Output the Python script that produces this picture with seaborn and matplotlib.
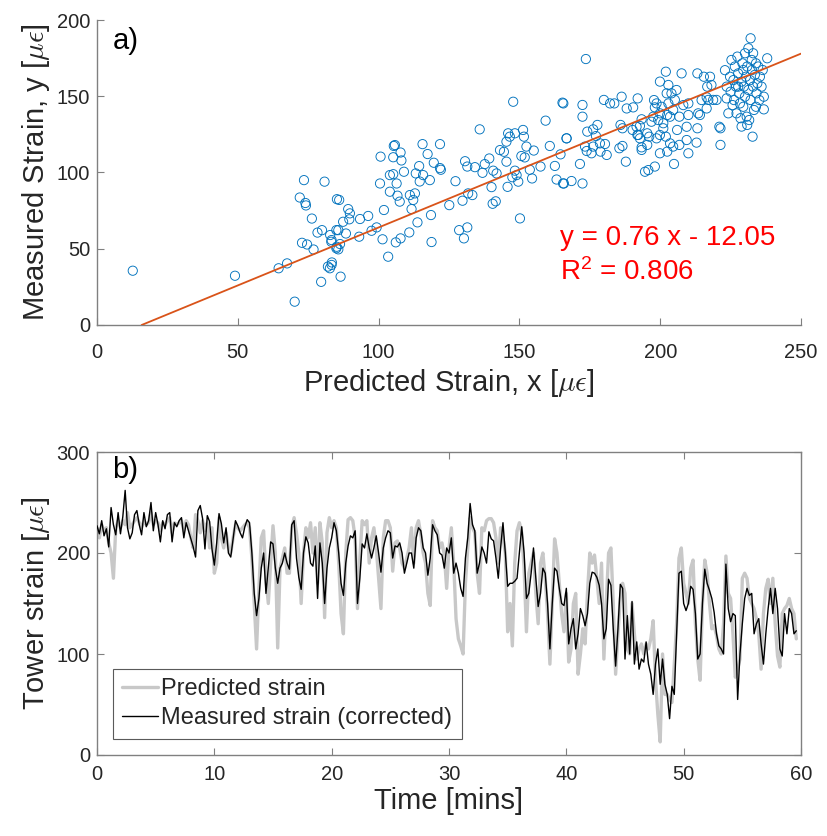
import numpy as np
import pandas as pd
import matplotlib
matplotlib.use("Agg")
import matplotlib.pyplot as plt
import seaborn as sns

# ---------------- data: panel a) scatter ----------------
pred_x = [
    12.7, 49.0, 64.5, 67.5, 70.2, 73.5, 80.8, 72.0, 74.0, 74.2, 76.3, 78.3, 79.9, 82.8, 83.2, 72.8, 74.6, 76.9, 82.0, 83.4,
    79.6, 85.2, 85.0, 85.0,
    86.0, 89.2, 89.8, 89.6, 87.4, 85.7, 88.4, 83.3, 85.1, 85.7, 86.3, 83.3, 82.7, 86.5, 93.4, 96.3, 93.1, 97.5, 99.3, 101.9,
    101.4, 103.4, 100.5, 104.0, 100.7, 105.2, 105.4, 105.8, 104.0, 105.2, 106.4, 107.8, 108.1, 109.0, 106.7, 107.5, 111.1,
    112.9, 112.3, 111.7, 113.8, 110.9, 107.8, 106.1, 114.4, 113.2, 115.8, 114.6, 115.6, 117.4, 118.2, 119.6, 121.8, 121.8,
    122.1, 118.6, 118.8, 125.1, 127.3, 128.6, 130.3, 131.5, 129.8, 131.8, 133.3, 130.7, 131.5, 134.2, 135.9, 136.9, 137.7,
    139.3, 140.1, 140.5, 141.6, 140.7, 141.9, 143.1, 144.5, 145.4, 146.0, 146.6, 145.4, 145.8, 147.8, 148.4, 151.3, 151.6,
    152.5, 150.7, 151.9, 148.4, 149.0, 149.6, 147.5, 150.2, 153.7, 154.5, 155.1, 157.5, 159.3, 160.8, 162.6, 163.2, 165.5,
    164.6, 165.3, 166.7,
    173.6, 165.6, 172.4, 172.4, 174.1, 176.2, 177.7, 177.2, 178.6, 180.4, 178.8, 176.2, 173.3, 171.5, 166.8, 173.9, 175.6,
    165.8, 168.5, 172.4, 181.0, 180.0, 182.2, 183.7, 186.3, 188.1, 190.4, 192.0, 185.9, 186.6, 185.5, 186.6, 187.8, 190.2,
    192.2, 192.8, 193.4, 191.6, 192.8, 193.4, 191.9, 194.6, 195.8, 198.1,
    195.4, 196.9, 198.1, 198.7, 197.8, 199.9, 200.5, 199.3, 199.9, 201.1, 202.0, 202.9, 202.9, 202.3, 204.0, 205.8, 205.2,
    204.6, 203.5, 202.5, 201.1, 199.9, 202.0, 207.6, 208.2, 206.8, 206.0, 206.8, 204.6, 203.5, 204.9, 202.5, 199.9, 198.7,
    197.5, 196.1, 195.4, 193.4,
    209.4, 210.0, 210.0, 209.4, 210.0, 212.9, 213.2, 213.5, 214.1, 213.2, 214.7, 215.5, 216.5, 217.7, 218.2, 216.5, 216.7,
    217.1, 218.8, 220.0, 221.0, 221.4, 221.4,
    223.0, 223.6, 223.6, 224.8, 225.0, 225.3, 226.0, 226.2, 226.5, 226.9, 227.1, 227.4, 227.7, 228.1, 228.3, 228.5, 228.9,
    229.2, 229.5, 229.7, 230.1, 230.1, 230.4, 230.7, 230.9, 231.3, 231.3, 231.6, 231.9, 232.1, 232.1, 232.5, 232.6, 232.8,
    233.0, 233.0, 233.3, 233.6, 234.0, 234.2, 234.5, 234.8, 235.2, 235.4, 236.0, 236.4, 236.8, 236.8, 238.0, 228.9, 230.9,
    224.2, 225.7, 227.7, 229.5, 234.0,
]
meas_y = [
    35.6, 32.3, 37.2, 40.4, 15.3, 95.0, 94.0, 83.6, 80.0, 78.4, 69.8, 60.6, 62.2, 59.0, 54.6, 53.9, 52.8, 49.5, 38.3, 41.0,
    28.3, 82.5, 62.2, 50.3,
    82.0, 76.0, 73.2, 69.3, 67.7, 62.2, 60.0, 55.7, 51.3, 49.6, 53.1, 39.4, 37.2, 31.7, 69.5, 71.5, 57.9, 61.8, 64.0, 75.4,
    56.2, 44.8, 92.8, 87.4, 110.4, 110.0, 117.4, 118.0, 98.3, 98.9, 92.8, 113.1, 107.9, 100.5, 84.8, 80.9, 85.2,
    86.3, 82.0, 76.0, 67.3, 60.7, 56.8, 54.2, 104.2, 99.4, 98.3, 94.1, 118.6, 112.1, 95.0, 106.4, 118.6, 102.9,
    101.8, 72.1, 54.4, 78.6, 94.3, 62.2, 56.8, 64.0, 81.5, 86.3, 85.2, 107.4, 103.9, 103.5, 128.3, 99.8, 105.5,
    109.2, 90.4, 79.5, 81.1, 101.2, 99.4, 114.7, 113.6, 120.2, 125.7, 123.5, 107.1, 90.6, 146.4, 125.7, 127.9, 123.5,
    117.0, 110.8, 109.9, 101.2, 98.3, 94.0, 96.9, 69.9, 101.8, 96.1, 114.4, 103.9, 134.0, 117.4, 104.3, 95.4, 92.8,
    111.9, 145.8, 122.4,
    174.4, 145.3, 144.3, 136.6, 126.8, 128.3, 131.2, 123.9, 119.1, 118.7, 113.7, 117.0, 117.0, 105.6, 122.4, 114.1, 112.6,
    92.8, 94.4, 92.8, 111.5, 147.6, 145.3, 145.3, 149.7, 142.0, 142.7, 148.6, 131.2, 129.0, 115.9, 117.4, 107.1, 127.9,
    124.6, 130.5, 134.9, 130.0, 122.4, 116.5, 124.6, 100.5, 101.6, 103.9,
    125.7, 133.3, 142.7, 145.3, 147.5, 138.8, 143.1, 134.4, 124.6, 129.0, 123.5, 157.4, 145.3, 151.9, 151.9, 154.1, 147.6,
    141.0, 136.6, 137.7, 132.3, 159.6, 166.1, 165.0, 144.2, 136.6, 127.9, 118.1, 117.0, 119.1, 105.6, 113.7, 112.6, 122.4,
    136.6, 123.5, 118.1, 114.8,
    130.0, 137.7, 145.3, 121.3, 112.6, 119.6, 129.0, 138.8, 137.7, 165.0, 147.5, 162.8, 149.3, 162.8, 157.4, 142.0, 156.3,
    147.6, 147.6, 147.6, 130.0, 129.0, 118.1,
    167.1, 156.3, 148.6, 162.8, 153.0, 173.8, 160.6, 147.5, 169.5, 156.3, 138.8, 176.0, 165.0, 151.9, 145.3, 135.6, 159.6,
    171.6, 143.1, 156.3, 178.2, 149.7, 162.8, 136.6, 169.5, 154.1, 181.5, 134.4, 160.6, 188.0, 147.5, 173.8, 167.2, 123.5,
    178.2, 156.3, 141.0, 164.0, 171.6, 151.9, 158.5, 169.5, 147.5, 162.8, 156.3, 167.2, 141.4, 149.7, 174.9, 130.1, 131.2,
    138.8, 144.2, 156.3, 167.2, 143.1,
]
fit_slope = 0.76
fit_intercept = -12.05
fit_r2 = 0.806

# ---------------- data: panel b) time series (every 0.2 min) ----------------
time_step_min = 0.2
predicted_strain = [
    225, 215, 228, 222, 225, 210, 200, 175, 225, 232, 225, 232, 228, 240, 225, 228, 232, 235, 230, 225,
    232, 228, 230, 240, 228, 232, 230, 222, 230, 228, 232, 235, 220, 230, 228, 230, 232, 222, 232, 228,
    215, 205, 238, 232, 220, 232, 222, 230, 205, 225,
    180, 190, 235, 215, 205, 220, 205, 200, 215, 228, 225, 222, 225, 228, 230, 225, 195, 150, 105, 165,
    215, 222, 175, 150, 190, 227, 200, 106, 185, 195, 205, 180, 180, 225, 235, 220, 200, 150, 200, 225,
    215, 230, 200, 225, 170, 230, 210, 136, 220, 235,
    225, 232, 225, 190, 140, 120, 200, 233, 235, 232, 215, 145, 195, 232, 228, 232, 190, 215, 225, 205,
    175, 145, 215, 232, 232, 225, 182, 210, 212, 205, 190, 185, 195, 205, 225, 190, 225, 232, 218, 200,
    190, 160, 148, 232, 225, 222, 205, 210, 198, 165,
    205, 225, 190, 135, 115, 108, 100, 170, 205, 235, 225, 220, 180, 160, 225, 222, 232, 234, 234, 230,
    215, 190, 225, 215, 200, 122, 150, 108, 190, 222, 230, 220, 185, 122, 180, 190, 200, 160, 130, 190,
    200, 175, 140, 90, 150, 214, 200, 170, 140, 122,
    160, 92, 105, 150, 160, 80, 100, 125, 110, 160, 200, 190, 198, 175, 150, 190, 95, 150, 200, 205,
    150, 80, 120, 155, 170, 160, 105, 100, 150, 120, 95, 105, 110, 100, 110, 105, 115, 133, 75, 40,
    13, 100, 60, 60, 55, 52, 90, 130, 195, 205,
    170, 160, 150, 185, 193, 130, 95, 74, 150, 193, 180, 150, 125, 128, 118, 105, 100, 130, 197, 160,
    155, 120, 77, 85, 95, 175, 180, 175, 155, 150, 145, 135, 120, 85, 140, 165, 174, 150, 175, 130,
    98, 87, 140, 145, 148, 155, 145, 140, 115,
]
measured_strain = [
    227, 219, 232, 217, 224, 206, 245, 228, 218, 240, 219, 236, 262, 225, 214, 220, 238, 242, 228, 218,
    240, 226, 232, 250, 222, 240, 228, 211, 232, 224, 238, 240, 211, 230, 226, 232, 235, 215, 230, 222,
    214, 206, 196, 242, 247, 234, 204, 237, 231, 204,
    188, 210, 239, 229, 210, 225, 200, 196, 214, 232, 227, 220, 215, 226, 233, 230, 200, 160, 138, 155,
    185, 200, 160, 185, 211, 209, 185, 170, 185, 190, 200, 190, 184, 228, 232, 195, 176, 164, 200, 216,
    210, 190, 187, 207, 155, 210, 190, 150, 185, 205,
    215, 230, 222, 200, 170, 158, 190, 207, 217, 215, 222, 150, 175, 209, 205, 219, 205, 195, 205, 217,
    200, 181, 205, 215, 222, 220, 195, 207, 206, 210, 200, 180, 190, 200, 200, 185, 215, 225, 222, 205,
    200, 178, 195, 228, 222, 218, 200, 198, 185, 205,
    200, 215, 180, 190, 180, 165, 157, 195, 215, 249, 228, 222, 180, 190, 206, 200, 190, 221, 214, 212,
    195, 175, 205, 230, 200, 167, 170, 170, 172, 175, 200, 226, 200, 155, 160, 180, 205, 175, 147, 160,
    185, 180, 150, 105, 150, 185, 182, 165, 150, 148,
    165, 110, 125, 135, 105, 120, 145, 138, 128, 140, 170, 181, 180, 176, 168, 150, 115, 125, 174, 168,
    125, 88, 125, 169, 165, 95, 138, 100, 152, 90, 112, 85, 95, 92, 112, 90, 80, 60, 90, 105,
    70, 95, 70, 60, 36, 68, 60, 120, 180, 182,
    150, 143, 150, 167, 164, 140, 95, 100, 150, 184, 170, 163, 155, 141, 120, 108, 105, 100, 189, 145,
    132, 140, 138, 55, 100, 130, 155, 165, 158, 160, 120, 130, 135, 110, 90, 120, 145, 165, 140, 165,
    145, 105, 98, 140, 120, 145, 140, 120, 123,
]
time_min = np.arange(len(measured_strain)) * time_step_min

# ---------------- style ----------------
sns.set_theme(style="white")
plt.rcParams["font.family"] = ["Liberation Sans", "DejaVu Sans"]
plt.rcParams["mathtext.fontset"] = "cm"
TICK_FS = 14.5
LABEL_FS = 21
AX_COL = "#808080"
TXT_COL = "#262626"

fig = plt.figure(figsize=(8.28, 8.36), dpi=100)
ax1 = fig.add_axes([97 / 828, 1 - 325 / 836, 704 / 828, 305 / 836])
ax2 = fig.add_axes([97 / 828, 1 - 755 / 836, 704 / 828, 303 / 836])

# ---------------- panel a ----------------
df_sc = pd.DataFrame({"pred": pred_x, "meas": meas_y})
sns.scatterplot(data=df_sc, x="pred", y="meas", ax=ax1, marker="o", s=44,
                color="#0072BD", linewidth=0.65, legend=False, zorder=3)
for coll in ax1.collections:
    coll.set_facecolor("none")
    coll.set_edgecolor("#0072BD")

x_fit = np.array([-fit_intercept / fit_slope, 250.0])
y_fit = fit_slope * x_fit + fit_intercept
sns.lineplot(x=x_fit, y=y_fit, ax=ax1, color="#D95319", linewidth=1.3, zorder=4)

ax1.set_xlim(0, 250)
ax1.set_ylim(0, 200)
ax1.set_xticks([0, 50, 100, 150, 200, 250])
ax1.set_yticks([0, 50, 100, 150, 200])
ax1.set_xlabel(r"Predicted Strain, x [$\mu\epsilon$]", fontsize=LABEL_FS, color=TXT_COL, va="center")
ax1.set_ylabel(r"Measured Strain, y [$\mu\epsilon$]", fontsize=LABEL_FS, color=TXT_COL, va="center")
ax1.xaxis.set_label_coords(0.5, (325 - 383) / 305)
ax1.yaxis.set_label_coords((36 - 97) / 704, 0.5)
for side in ["top", "right"]:
    ax1.spines[side].set_visible(False)
for side in ["left", "bottom"]:
    ax1.spines[side].set_color(AX_COL)
    ax1.spines[side].set_linewidth(1.0)
ax1.tick_params(direction="in", length=5, width=0.8, color=AX_COL, labelsize=TICK_FS,
                labelcolor=TXT_COL, bottom=True, left=True, top=False, right=False)
ax1.tick_params(axis="x", pad=13)
ax1.tick_params(axis="y", pad=5)
ax1.text(0.022, 0.93, "a)", transform=ax1.transAxes, fontsize=LABEL_FS, color="black", va="center")
ax1.text(0.658, 0.285, f"y = {fit_slope:.2f} x - {abs(fit_intercept):.2f}", transform=ax1.transAxes,
         fontsize=20, color="#FF0000", va="center")
ax1.text(0.658, 0.174, r"$\mathregular{R^2}$" + f" = {fit_r2:.3f}", transform=ax1.transAxes,
         fontsize=20, color="#FF0000", va="center")

# ---------------- panel b ----------------
df_ts = pd.DataFrame({"t": time_min, "pred": predicted_strain, "meas": measured_strain})
sns.lineplot(data=df_ts, x="t", y="pred", ax=ax2, color="#C8C8C8", linewidth=2.4,
             label="Predicted strain", estimator=None, zorder=2)
sns.lineplot(data=df_ts, x="t", y="meas", ax=ax2, color="black", linewidth=1.0,
             label="Measured strain (corrected)", estimator=None, zorder=3)
ax2.set_xlim(0, 60)
ax2.set_ylim(0, 300)
ax2.set_xticks([0, 10, 20, 30, 40, 50, 60])
ax2.set_yticks([0, 100, 200, 300])
ax2.set_xlabel("Time [mins]", fontsize=LABEL_FS, color=TXT_COL, va="center")
ax2.set_ylabel(r"Tower strain [$\mu\epsilon$]", fontsize=LABEL_FS, color=TXT_COL, va="center")
ax2.xaxis.set_label_coords(0.5, (755 - 801) / 303)
ax2.yaxis.set_label_coords((36 - 97) / 704, 0.5)
for side in ["left", "bottom", "top", "right"]:
    ax2.spines[side].set_visible(True)
    ax2.spines[side].set_color(AX_COL)
    ax2.spines[side].set_linewidth(1.0)
ax2.tick_params(direction="in", length=5, width=0.8, color=AX_COL, labelsize=TICK_FS,
                labelcolor=TXT_COL, bottom=True, left=True, top=True, right=True)
ax2.tick_params(axis="x", pad=7)
ax2.tick_params(axis="y", pad=5)
ax2.text(0.022, 0.94, "b)", transform=ax2.transAxes, fontsize=LABEL_FS, color="black", va="center")
leg = ax2.legend(loc="lower left", bbox_to_anchor=(0.0227, 0.053), fontsize=17, frameon=True,
                 fancybox=False, framealpha=1, edgecolor="#5a5a5a", borderpad=0.4,
                 handlelength=1.5, handletextpad=0.15, labelspacing=0.3, borderaxespad=0.0)
leg.get_frame().set_linewidth(0.8)

fig.savefig("out.png", dpi=100)
